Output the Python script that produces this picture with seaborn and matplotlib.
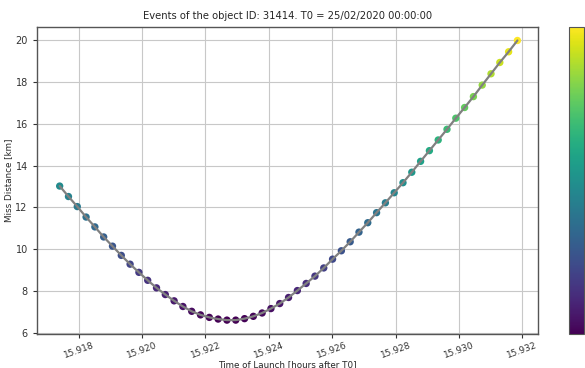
import numpy as np
import pandas as pd
import matplotlib
matplotlib.use("Agg")
import matplotlib.pyplot as plt
import seaborn as sns

# launch times in hours after T0 (one point per second)
t_start = 15.9174
seconds = list(range(53))

miss_km = [
    13.02, 12.52, 12.04, 11.54, 11.07, 10.59, 10.15, 9.71, 9.29, 8.90,
    8.52, 8.16, 7.84, 7.54, 7.27, 7.04, 6.87, 6.75, 6.67, 6.62,
    6.62, 6.69, 6.80, 6.96, 7.17, 7.41, 7.70, 8.03, 8.37, 8.72,
    9.11, 9.53, 9.93, 10.36, 10.82, 11.27, 11.75, 12.22, 12.70, 13.18,
    13.68, 14.20, 14.71, 15.22, 15.73, 16.26, 16.77, 17.29, 17.84, 18.38,
    18.92, 19.43, 19.97,
]

xticks = [15.918, 15.920, 15.922, 15.924, 15.926, 15.928, 15.930, 15.932]
yticks = [6, 8, 10, 12, 14, 16, 18, 20]

df = pd.DataFrame({
    "time": [t_start + s / 3600 for s in seconds],
    "miss": miss_km,
})

sns.set_style("ticks")
plt.rcParams["font.family"] = ["DejaVu Sans"]

fig = plt.figure(figsize=(5.85, 3.68), dpi=100)
ax = fig.add_axes([0.063, 0.092, 0.857, 0.835])
cax = fig.add_axes([0.973, 0.092, 0.026, 0.835])

vmin, vmax = min(miss_km), max(miss_km)
sns.scatterplot(data=df, x="time", y="miss", hue="miss", palette="viridis",
                hue_norm=(vmin, vmax), s=28, edgecolor="none", legend=False,
                ax=ax, zorder=2)
sns.lineplot(data=df, x="time", y="miss", color="gray", linewidth=1.6,
             ax=ax, zorder=3)

ax.set_xlim(15.91668, 15.9325)
ax.set_ylim(5.95, 20.62)
ax.set_xticks(xticks)
ax.set_xticklabels([f"{v:.3f}" for v in xticks], rotation=20, fontsize=6.5)
ax.set_yticks(yticks)
ax.set_yticklabels([str(v) for v in yticks], fontsize=7)
ax.tick_params(axis="x", pad=1.5)
ax.grid(True, color="#c8c8c8", linewidth=0.8)
ax.set_axisbelow(True)
for sp in ax.spines.values():
    sp.set_color("#555555")
    sp.set_linewidth(1.0)
ax.tick_params(colors="#333333", length=3)

ax.set_title("Events of the object ID: 31414. T0 = 25/02/2020 00:00:00", fontsize=7.2)
ax.set_xlabel("Time of Launch [hours after T0]", fontsize=6.3, labelpad=0)
ax.set_ylabel("Miss Distance [km]", fontsize=6.3, labelpad=2)

sm = plt.cm.ScalarMappable(cmap="viridis", norm=plt.Normalize(vmin, vmax))
cb = fig.colorbar(sm, cax=cax)
cb.outline.set_edgecolor("#555555")
# the colour scale labels fall outside the picture in the original
cb.ax.tick_params(labelright=False, length=2)

fig.savefig("out.png", dpi=100)
